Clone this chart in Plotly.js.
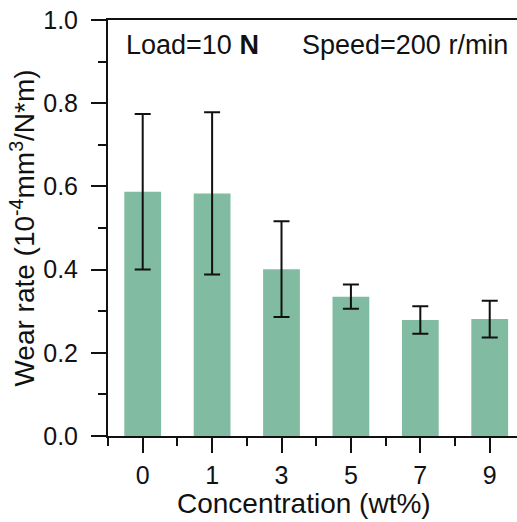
<!DOCTYPE html>
<html><head><meta charset="utf-8">
<script src="https://cdn.plot.ly/plotly-3.0.1.min.js"></script>
<style>body{margin:0;padding:0;background:#fff}#chart{width:517px;height:522px}</style>
</head><body><div id="chart"></div>
<script>
const categories = ['0', '1', '3', '5', '7', '9'];
const wearRate = [0.587, 0.583, 0.401, 0.335, 0.279, 0.281];
const wearErr = [0.187, 0.195, 0.115, 0.029, 0.033, 0.044];
const yTicks = [0, 0.2, 0.4, 0.6, 0.8, 1.0];
const yTickText = ['0.0', '0.2', '0.4', '0.6', '0.8', '1.0'];

const xIdx = categories.map((c, i) => i);
const F = 'Arial, "Liberation Sans", sans-serif';

const trace = {
  type: 'bar',
  x: xIdx,
  y: wearRate,
  width: 0.53,
  marker: {color: '#80BBA2', line: {width: 0}},
  error_y: {type: 'data', array: wearErr, visible: true, color: '#111', thickness: 2, width: 8}
};

const layout = {
  width: 517, height: 522,
  margin: {l: 108, r: 0, t: 20, b: 86},
  paper_bgcolor: '#fff', plot_bgcolor: '#fff',
  showlegend: false,
  font: {family: F, color: '#111'},
  xaxis: {
    range: [-0.5, 5.393],
    tickmode: 'array', tickvals: xIdx, ticktext: categories,
    ticks: 'outside', ticklen: 15, tickwidth: 2, tickcolor: '#111',
    minor: {tickmode: 'linear', tick0: 0.5, dtick: 1, ticks: 'outside', ticklen: 8, tickwidth: 2, tickcolor: '#111'},
    showline: true, linewidth: 2, linecolor: '#111', mirror: true,
    showgrid: false, zeroline: false,
    ticklabelstandoff: 1,
    tickfont: {size: 25, family: F, color: '#111'}
  },
  yaxis: {
    range: [0, 1.0],
    tickmode: 'array', tickvals: yTicks, ticktext: yTickText,
    ticks: 'outside', ticklen: 15, tickwidth: 2, tickcolor: '#111',
    minor: {tickmode: 'linear', tick0: 0.1, dtick: 0.2, ticks: 'outside', ticklen: 8, tickwidth: 2, tickcolor: '#111'},
    showline: true, linewidth: 2, linecolor: '#111',
    showgrid: false, zeroline: false,
    ticklabelstandoff: 8,
    tickfont: {size: 25, family: F, color: '#111'},
    title: {text: 'Wear rate (10<sup>-4</sup>mm<sup>3</sup>/N*m)', font: {size: 28, family: F, color: '#111'}, standoff: 0}
  },
  annotations: [
    {xref: 'paper', yref: 'paper', x: 0.04, y: 0.94, xanchor: 'left', yanchor: 'middle',
     text: 'Load=10 <b>N</b>', showarrow: false, font: {size: 27, family: F, color: '#111'}},
    {xref: 'paper', yref: 'paper', x: 0.983, y: 0.94, xanchor: 'right', yanchor: 'middle',
     text: 'Speed=200 r/min', showarrow: false, font: {size: 27, family: F, color: '#111'}},
    {xref: 'paper', yref: 'paper', x: 0.478, y: -0.163, xanchor: 'center', yanchor: 'middle',
     text: 'Concentration (wt%)', showarrow: false, font: {size: 28, family: F, color: '#111'}}
  ]
};

Plotly.newPlot('chart', [trace], layout, {displayModeBar: false, staticPlot: true});
</script></body></html>
